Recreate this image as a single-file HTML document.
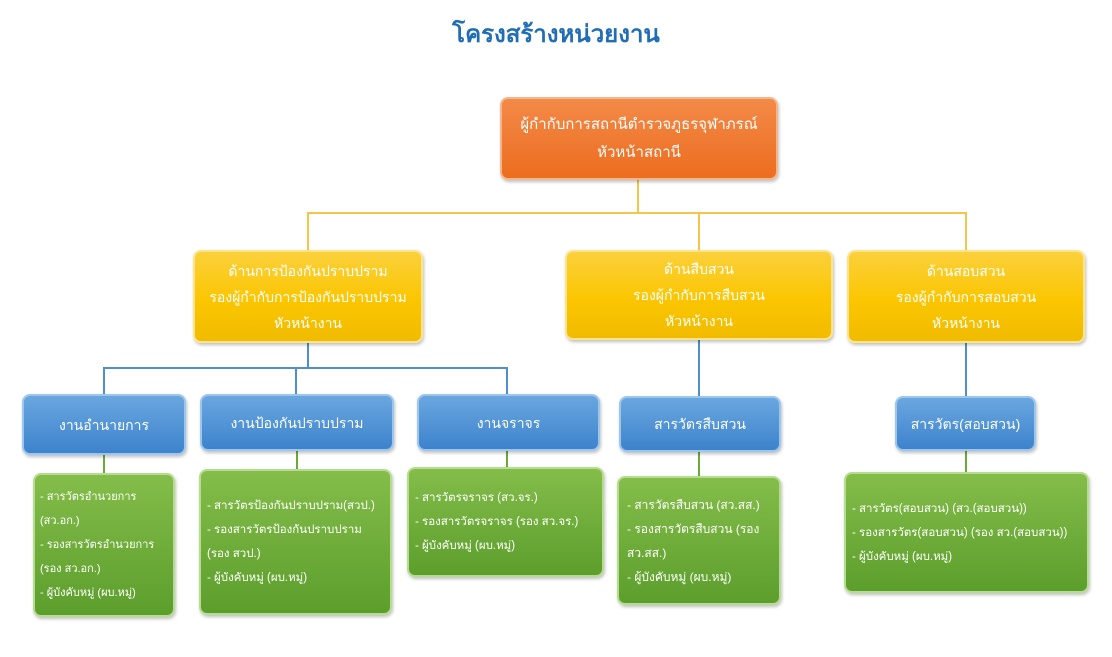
<!DOCTYPE html>
<html><head><meta charset="utf-8"><style>
body{margin:0;width:1112px;height:657px;background:#fff;position:relative;overflow:hidden;font-family:"Liberation Sans","DejaVu Sans","Noto Sans CJK SC",sans-serif}
.b{position:absolute;box-sizing:border-box;border-radius:8px;color:#fff;text-align:center;display:flex;flex-direction:column;justify-content:center;font-size:14px;line-height:26px;box-shadow:1px 2px 3px rgba(0,0,0,.25)}
.o{background:linear-gradient(#f38a48,#ec6d1f);border:2px solid #f7b58b}
.y{background:linear-gradient(#fbd03c,#fbc600 55%,#f1bb00);border:2px solid #fde38a}
.bl{background:linear-gradient(#6aa7e0,#3d83cc);border:2px solid #9cc6ee}
.g{background:linear-gradient(#84bd4a,#5c9e2c);border:2px solid #b6dc8f;text-align:left;justify-content:center;font-size:12px;line-height:24px;padding:0 8px;white-space:nowrap;overflow:hidden}
.l{position:absolute}
</style></head><body>
<div style="position:absolute;left:0;width:1112px;top:14px;text-align:center;color:#1f6db5;font-size:24px;font-weight:bold">โครงสร้างหน่วยงาน</div>
<div class="l" style="left:637px;top:180px;width:2px;height:34px;background:#f3c64a"></div>
<div class="l" style="left:307px;top:212px;width:660px;height:2px;background:#f3c64a"></div>
<div class="l" style="left:307px;top:212px;width:2px;height:40px;background:#f3c64a"></div>
<div class="l" style="left:698px;top:212px;width:2px;height:40px;background:#f3c64a"></div>
<div class="l" style="left:965px;top:212px;width:2px;height:40px;background:#f3c64a"></div>
<div class="l" style="left:307px;top:342px;width:2px;height:27px;background:#4f8fd0"></div>
<div class="l" style="left:103px;top:367px;width:405px;height:2px;background:#4f8fd0"></div>
<div class="l" style="left:103px;top:367px;width:2px;height:28px;background:#4f8fd0"></div>
<div class="l" style="left:295px;top:367px;width:2px;height:28px;background:#4f8fd0"></div>
<div class="l" style="left:506px;top:367px;width:2px;height:28px;background:#4f8fd0"></div>
<div class="l" style="left:698px;top:340px;width:2px;height:57px;background:#4f8fd0"></div>
<div class="l" style="left:965px;top:342px;width:2px;height:55px;background:#4f8fd0"></div>
<div class="l" style="left:103px;top:454px;width:2px;height:20px;background:#6aaa38"></div>
<div class="l" style="left:296px;top:450px;width:2px;height:20px;background:#6aaa38"></div>
<div class="l" style="left:506px;top:450px;width:2px;height:18px;background:#6aaa38"></div>
<div class="l" style="left:698px;top:451px;width:2px;height:26px;background:#6aaa38"></div>
<div class="l" style="left:965px;top:450px;width:2px;height:23px;background:#6aaa38"></div>
<div class="b o" style="left:500px;top:97px;width:278px;height:83px;font-size:15px;line-height:28px">ผู้กำกับการสถานีตำรวจภูธรจุฬาภรณ์<br>หัวหน้าสถานี</div>
<div class="b y" style="left:193px;top:250px;width:230px;height:93px">ด้านการป้องกันปราบปราม<br>รองผู้กำกับการป้องกันปราบปราม<br>หัวหน้างาน</div>
<div class="b y" style="left:565px;top:250px;width:268px;height:90px">ด้านสืบสวน<br>รองผู้กำกับการสืบสวน<br>หัวหน้างาน</div>
<div class="b y" style="left:847px;top:250px;width:238px;height:93px">ด้านสอบสวน<br>รองผู้กำกับการสอบสวน<br>หัวหน้างาน</div>
<div class="b bl" style="left:22px;top:394px;width:164px;height:61px">งานอำนายการ</div>
<div class="b bl" style="left:200px;top:394px;width:194px;height:57px">งานป้องกันปราบปราม</div>
<div class="b bl" style="left:417px;top:394px;width:183px;height:57px">งานจราจร</div>
<div class="b bl" style="left:619px;top:396px;width:162px;height:56px">สารวัตรสืบสวน</div>
<div class="b bl" style="left:895px;top:396px;width:141px;height:55px">สารวัตร(สอบสวน)</div>
<div class="b g" style="left:33px;top:473px;width:142px;height:144px;font-size:11px;padding:0 5px">- สารวัตรอำนวยการ<br>(สว.อก.)<br>- รองสารวัตรอำนวยการ<br>(รอง สว.อก.)<br>- ผู้บังคับหมู่ (ผบ.หมู่)</div>
<div class="b g" style="left:199px;top:469px;width:193px;height:146px;font-size:11.5px;padding:0 6px">- สารวัตรป้องกันปราบปราม(สวป.)<br>- รองสารวัตรป้องกันปราบปราม<br>(รอง สวป.)<br>- ผู้บังคับหมู่ (ผบ.หมู่)</div>
<div class="b g" style="left:407px;top:467px;width:197px;height:110px;font-size:11.5px;padding:0 6px">- สารวัตรจราจร (สว.จร.)<br>- รองสารวัตรจราจร (รอง สว.จร.)<br>- ผู้บังคับหมู่ (ผบ.หมู่)</div>
<div class="b g" style="left:617px;top:476px;width:164px;height:129px">- สารวัตรสืบสวน (สว.สส.)<br>- รองสารวัตรสืบสวน (รอง<br>สว.สส.)<br>- ผู้บังคับหมู่ (ผบ.หมู่)</div>
<div class="b g" style="left:844px;top:472px;width:245px;height:121px;font-size:11.5px;padding:0 6px">- สารวัตร(สอบสวน) (สว.(สอบสวน))<br>- รองสารวัตร(สอบสวน) (รอง สว.(สอบสวน))<br>- ผู้บังคับหมู่ (ผบ.หมู่)</div>
</body></html>
